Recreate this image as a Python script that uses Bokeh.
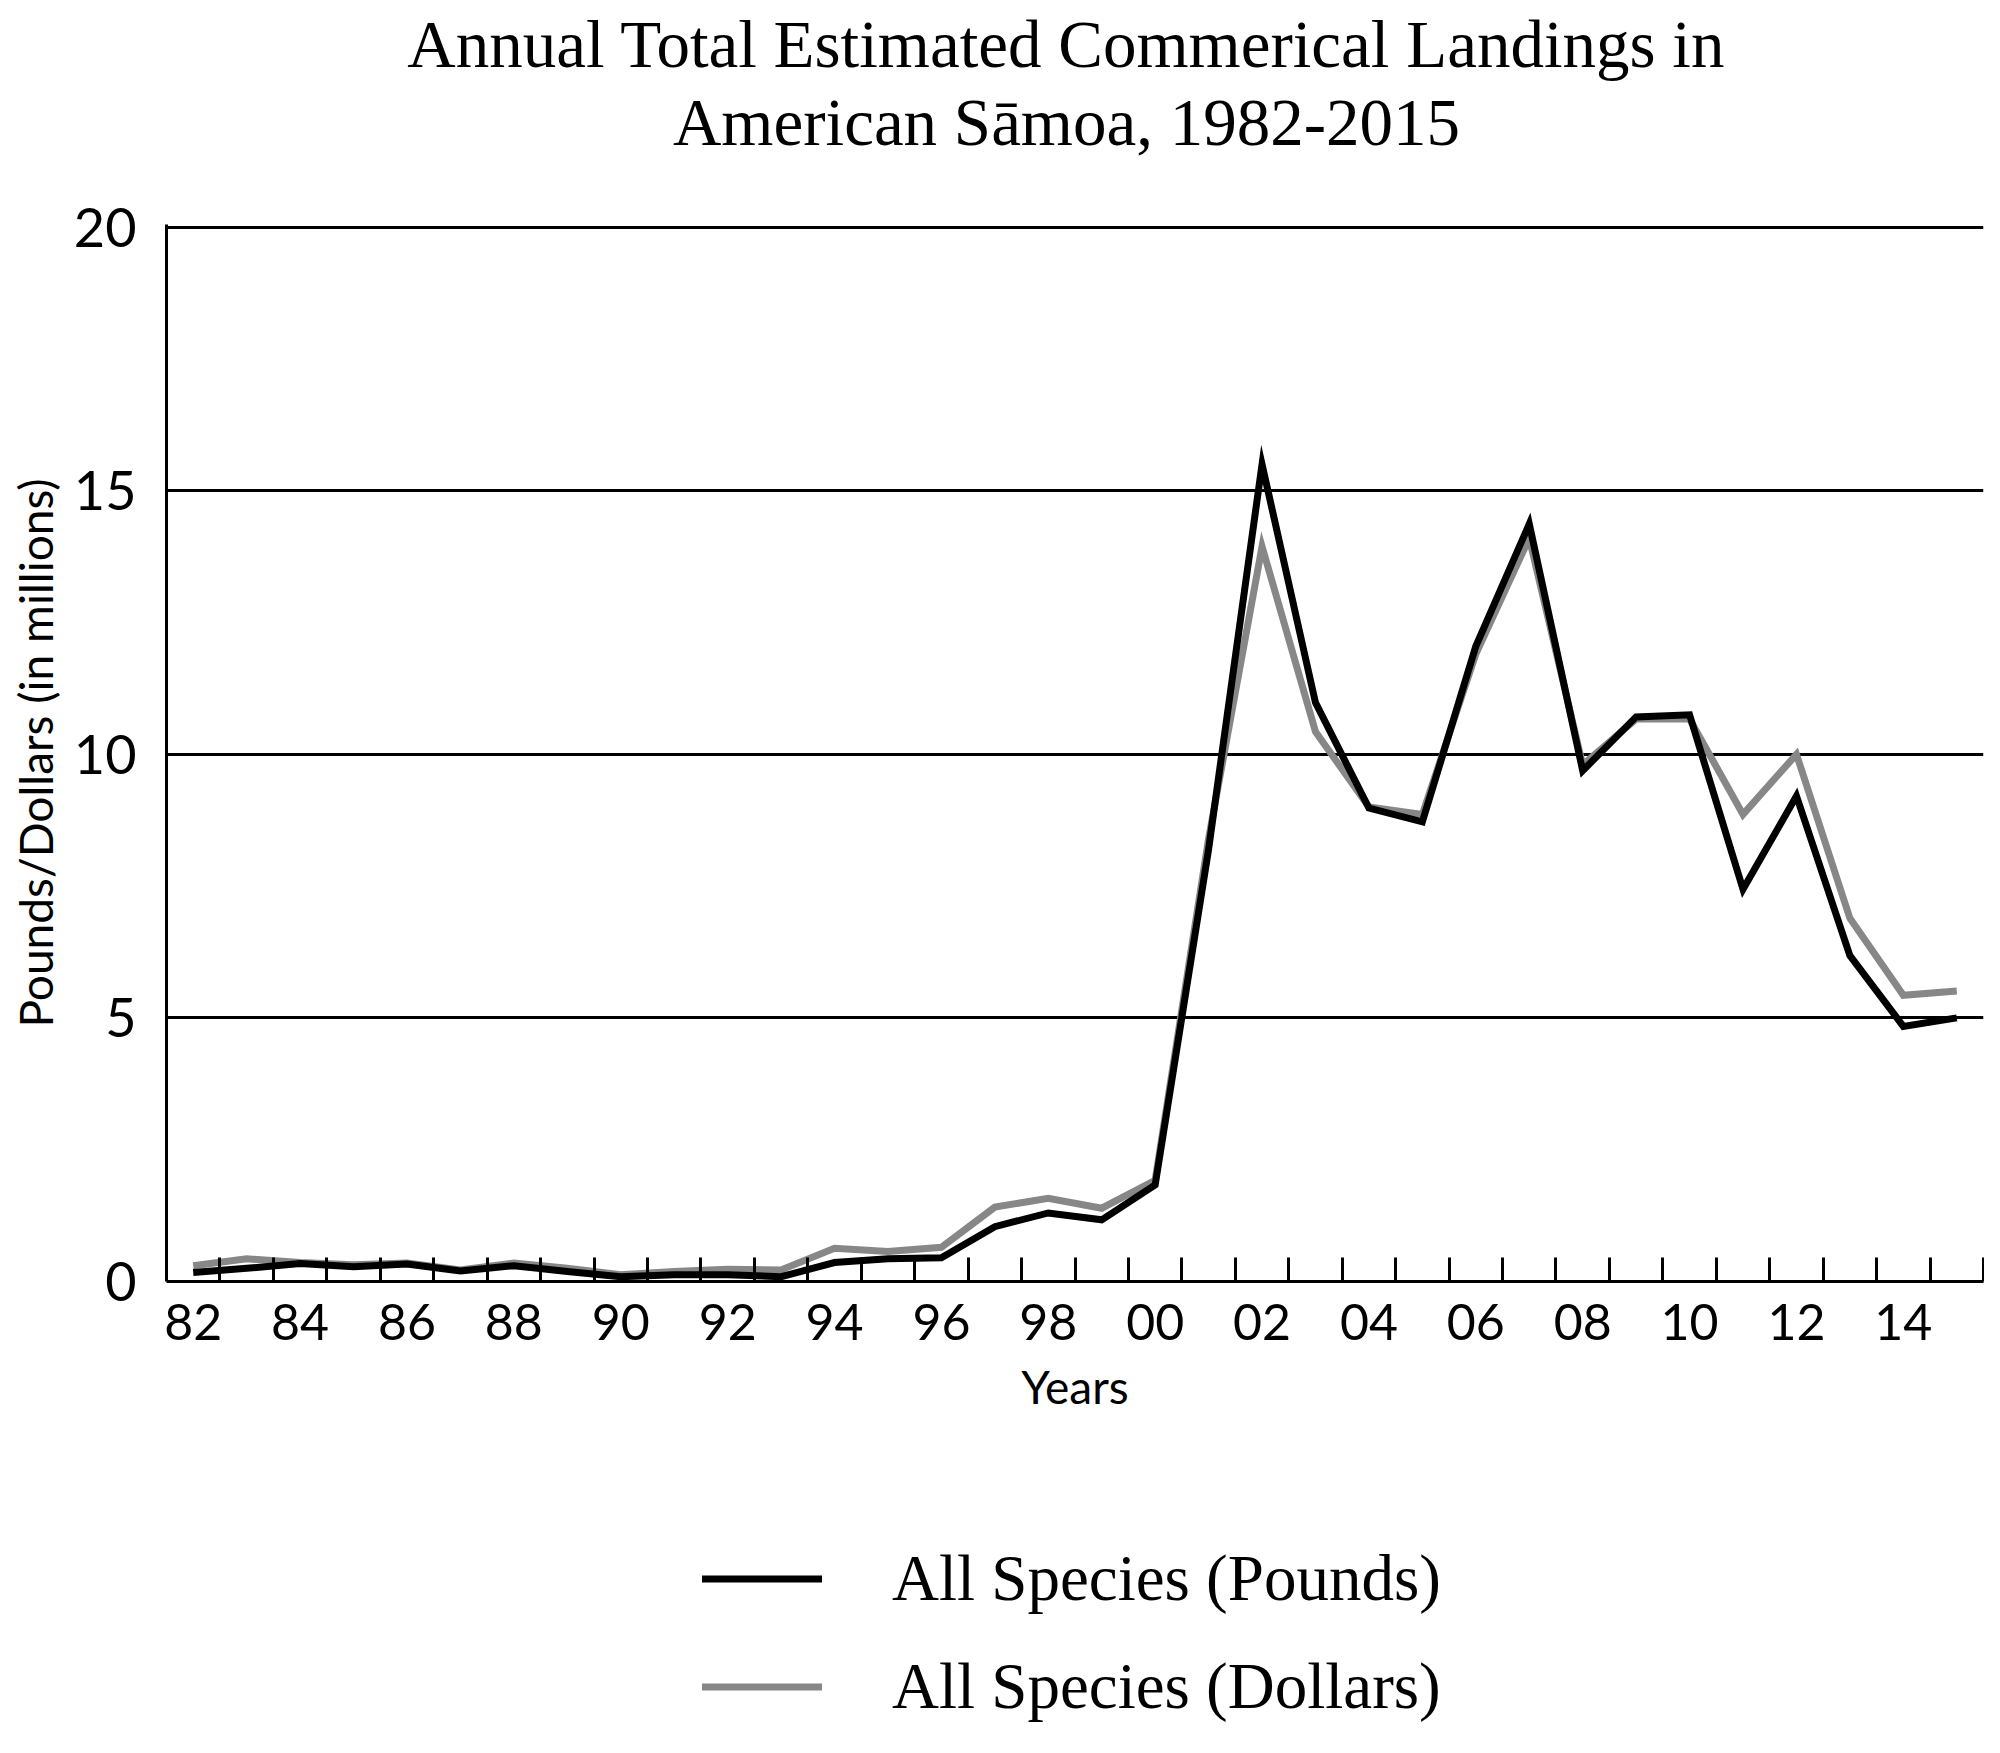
from bokeh.plotting import figure
from bokeh.models import (Range1d, FixedTicker, Label, Legend, LegendItem)
from bokeh.layouts import column
from bokeh.embed import file_html
from bokeh.resources import INLINE

# ---- data (millions) ----
years = list(range(1982, 2016))
pounds = [0.17, 0.25, 0.34, 0.28, 0.33, 0.20, 0.30, 0.19, 0.09, 0.13, 0.13, 0.09,
          0.36, 0.43, 0.45, 1.04, 1.30, 1.17, 1.83, 8.2, 15.5, 10.98, 8.98, 8.72,
          12.05, 14.37, 9.69, 10.71, 10.75, 7.44, 9.21, 6.18, 4.84, 5.0]
dollars = [0.30, 0.43, 0.36, 0.32, 0.35, 0.22, 0.35, 0.25, 0.13, 0.19, 0.23, 0.22,
           0.63, 0.57, 0.65, 1.41, 1.58, 1.39, 1.92, 8.4, 13.94, 10.43, 9.0, 8.86,
           11.9, 14.1, 9.8, 10.67, 10.67, 8.86, 10.0, 6.89, 5.43, 5.51]
label_years = years[::2]
tick_labels = {y: "%02d" % (y % 100) for y in label_years}
y_ticks = [0, 5, 10, 15, 20]
series_names = ["All Species (Pounds)", "All Species (Dollars)"]
series_colors = ["black", "#878787"]
title_lines = ["Annual Total Estimated Commerical Landings in",
               "American S\u0101moa, 1982-2015"]

SANS = "Lato"
SERIF = "Liberation Serif"
W = 1984
FRAME_L, FRAME_R = 166, 1983
H_TITLE, H_MAIN, H_LEG = 190, 1270, 277
LW = 7


def blank(h):
    f = figure(width=W, height=h, output_backend="svg", toolbar_location=None,
               x_range=Range1d(FRAME_L, FRAME_R), y_range=Range1d(h, 0),
               x_axis_location=None, y_axis_location=None,
               min_border=0)
    f.grid.grid_line_color = None
    f.outline_line_color = None
    f.background_fill_color = "white"
    f.border_fill_color = "white"
    return f


# ---- title ----
pt = blank(H_TITLE)
for txt, yb in zip(title_lines, [43, 121]):
    pt.add_layout(Label(x=1066, y=yb, text=txt, text_align="center",
                        text_baseline="alphabetic", text_font=SERIF,
                        text_font_size="67px", text_color="black"))

# ---- main plot ----
p = figure(width=W, height=H_MAIN, output_backend="svg", toolbar_location=None,
           x_range=Range1d(years[0] - 0.5, years[-1] + 0.5),
           y_range=Range1d(0, 20.05))
p.min_border_left = FRAME_L
p.min_border_right = W - FRAME_R
p.min_border_top = 34
p.min_border_bottom = 179
p.outline_line_color = None
p.background_fill_color = "white"
p.border_fill_color = "white"

xa = p.xaxis[0]
xa.ticker = FixedTicker(ticks=label_years,
                        minor_ticks=[y + 0.5 for y in years])
xa.major_label_overrides = tick_labels
xa.major_tick_line_color = None
xa.minor_tick_in = 24
xa.minor_tick_out = 0
xa.minor_tick_line_width = 3
xa.minor_tick_line_color = "black"
xa.axis_line_width = 3
xa.axis_line_color = "black"
xa.major_label_text_font = SANS
xa.major_label_text_font_size = "50px"
xa.major_label_text_color = "black"
xa.major_label_standoff = 16
xa.axis_label = "Years"
xa.axis_label_text_font = SANS
xa.axis_label_text_font_size = "46px"
xa.axis_label_text_font_style = "normal"
xa.axis_label_text_color = "black"
xa.axis_label_standoff = 16

ya = p.yaxis[0]
ya.ticker = FixedTicker(ticks=y_ticks)
ya.major_tick_line_color = None
ya.minor_tick_line_color = None
ya.axis_line_width = 3
ya.axis_line_color = "black"
ya.major_label_text_font = SANS
ya.major_label_text_font_size = "54px"
ya.major_label_text_color = "black"
ya.major_label_standoff = 24
ya.axis_label = "Pounds/Dollars (in millions)"
ya.axis_label_text_font = SANS
ya.axis_label_text_font_size = "46px"
ya.axis_label_text_font_style = "normal"
ya.axis_label_text_color = "black"
ya.axis_label_standoff = 8

p.xgrid.grid_line_color = None
p.ygrid.grid_line_color = "black"
p.ygrid.grid_line_width = 3

p.line(years, dollars, line_color=series_colors[1], line_width=LW, line_join="miter")
p.line(years, pounds, line_color=series_colors[0], line_width=LW, line_join="miter")

# ---- legend (swatch-only renderers, nothing drawn in the frame) ----
pl = blank(H_LEG)
items = []
for name, col in zip(series_names, series_colors):
    r = pl.line(x=[float("nan")], y=[float("nan")], line_color=col,
                line_width=LW, line_cap="round")
    items.append(LegendItem(label=name, renderers=[r]))
legend = Legend(items=items, location=(702 - FRAME_L, 13), orientation="vertical",
                glyph_width=120, glyph_height=75, label_height=75,
                label_standoff=70, spacing=33, padding=0, margin=0,
                border_line_color=None, background_fill_alpha=0,
                label_text_font=SERIF, label_text_font_size="65px",
                label_text_color="black")
pl.add_layout(legend, "center")

layout = column(pt, p, pl, spacing=0)
open("out.html", "w").write(file_html(layout, INLINE))
